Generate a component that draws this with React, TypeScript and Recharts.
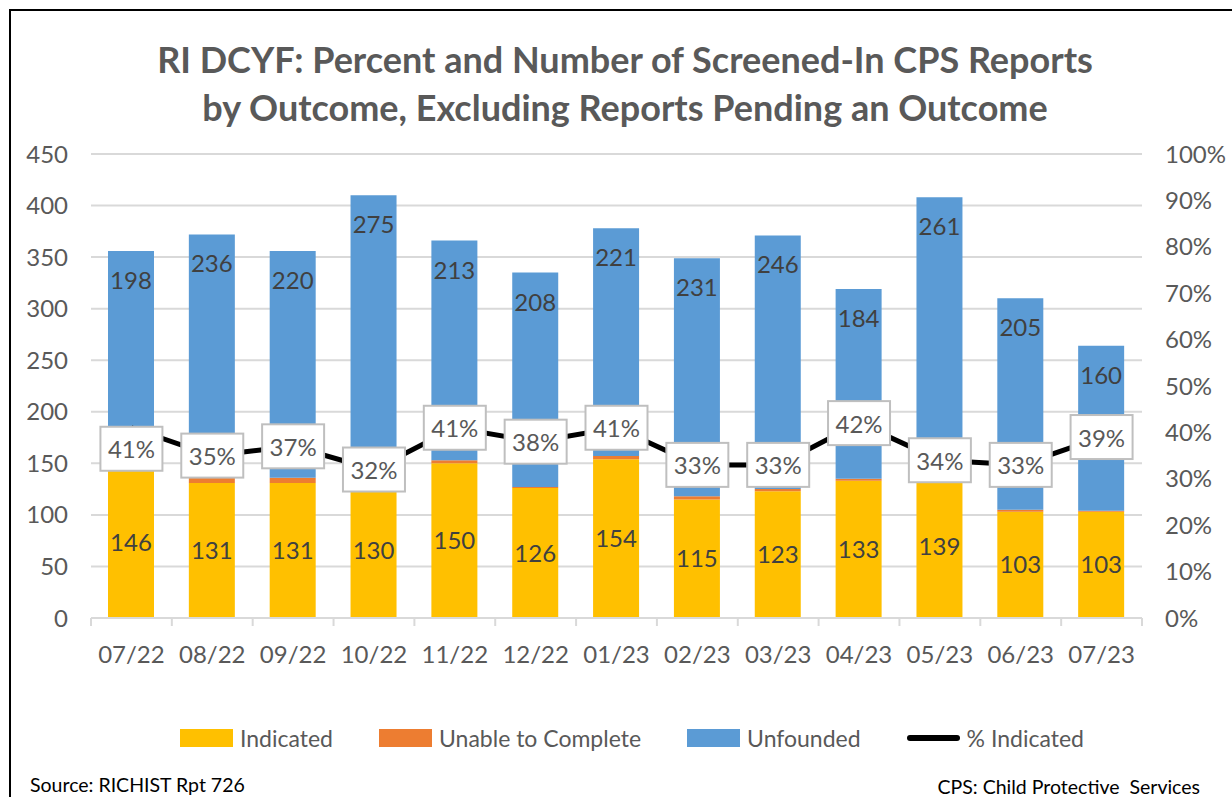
import React from "react";
import {
  ComposedChart, Bar, Line, LabelList,
  XAxis, YAxis, CartesianGrid,
} from "recharts";

// ─── Data ────────────────────────────────────────────────
const months = ["07/22", "08/22", "09/22", "10/22", "11/22", "12/22", "01/23", "02/23", "03/23", "04/23", "05/23", "06/23", "07/23"];
const indicated = [146, 131, 131, 130, 150, 126, 154, 115, 123, 133, 139, 103, 103];
const unableToComplete = [12, 5, 5, 5, 3, 1, 3, 3, 2, 2, 8, 2, 1];
const unfounded = [198, 236, 220, 275, 213, 208, 221, 231, 246, 184, 261, 205, 160];
const pctIndicated = [0.41, 0.35, 0.37, 0.32, 0.41, 0.38, 0.41, 0.33, 0.33, 0.42, 0.34, 0.33, 0.39];

const countTicks = [0, 50, 100, 150, 200, 250, 300, 350, 400, 450];
const pctTicks = [0, 0.1, 0.2, 0.3, 0.4, 0.5, 0.6, 0.7, 0.8, 0.9, 1];

const data = months.map((month, i) => ({
  month,
  indicated: indicated[i],
  unable: unableToComplete[i],
  unfounded: unfounded[i],
  pct: pctIndicated[i],
}));

const FONT = "Lato, 'Open Sans', sans-serif";
const GREY = "#595959";
const GRID = "#D9D9D9";
const YELLOW = "#FFC000";
const ORANGE = "#ED7D31";
const BLUE = "#5B9BD5";

// x tick: month label + separator marks at the band edges
const MonthTick = (props: any) => {
  const { x, y, payload, index, visibleTicksCount } = props;
  const half = payload.offset || 0;
  const isLast = index === visibleTicksCount - 1;
  return (
    <g>
      <line x1={x - half} x2={x - half} y1={y} y2={y + 8} stroke={GRID} strokeWidth={2} />
      {isLast && <line x1={x + half} x2={x + half} y1={y} y2={y + 8} stroke={GRID} strokeWidth={2} />}
      <text x={x} y={y + 35} textAnchor="middle" dominantBaseline="central" fill={GREY} fontSize={24} fontFamily={FONT}>
        {payload.value}
      </text>
    </g>
  );
};

// boxed percent label on the line
const PctLabel = (props: any) => {
  const { x, y, value, index } = props;
  const dy = index === 0 ? 21 : 0; // first label sits below its point
  return (
    <g>
      <rect x={x - 31} y={y - 22 + dy} width={62} height={44} fill="#fff" stroke="#BFBFBF" strokeWidth={2} />
      <text x={x} y={y + dy} textAnchor="middle" dominantBaseline="central" fill={GREY} fontSize={24} fontFamily={FONT}>
        {Math.round(value * 100) + "%"}
      </text>
    </g>
  );
};

const legendItems = [
  { name: "Indicated", color: YELLOW, line: false },
  { name: "Unable to Complete", color: ORANGE, line: false },
  { name: "Unfounded", color: BLUE, line: false },
  { name: "% Indicated", color: "#000", line: true },
];

export default function App() {
  return (
    <div style={{ position: "absolute", left: 0, top: 0, width: 1232, height: 797, overflow: "hidden", background: "#fff", fontFamily: FONT }}>
      {/* frame */}
      <div style={{ position: "absolute", left: 9, top: 9, width: 1400, height: 1000, borderLeft: "2px solid #000", borderTop: "2px solid #000" }} />

      {/* title */}
      <div style={{ position: "absolute", left: 0, top: 35, width: 1250, textAlign: "center", color: GREY, fontWeight: 700, fontSize: 36, lineHeight: "48px" }}>
        RI DCYF: Percent and Number of Screened-In CPS Reports<br />
        by Outcome, Excluding Reports Pending an Outcome
      </div>

      <div style={{ position: "absolute", left: 0, top: 0 }}>
        <ComposedChart width={1232} height={797} data={data} margin={{ top: 154, right: 0, left: 0, bottom: 129 }}>
          <CartesianGrid vertical={false} stroke={GRID} strokeWidth={2} />
          <XAxis
            dataKey="month"
            height={50}
            tick={<MonthTick />}
            tickLine={false}
            tickSize={0}
            tickMargin={0}
            axisLine={{ stroke: GRID, strokeWidth: 2 }}
            interval={0}
          />
          <YAxis
            domain={[0, 450]}
            ticks={countTicks}
            width={91}
            axisLine={false}
            tickLine={false}
            tickSize={0}
            tickMargin={23}
            tick={{ fill: GREY, fontSize: 24, fontFamily: FONT }}
          />
          <YAxis
            yAxisId="right"
            orientation="right"
            domain={[0, 1]}
            ticks={pctTicks}
            width={90}
            axisLine={false}
            tickLine={false}
            tickSize={0}
            tickMargin={23}
            tickFormatter={(v: number) => Math.round(v * 100) + "%"}
            tick={{ fill: GREY, fontSize: 24, fontFamily: FONT }}
          />
          <Bar dataKey="indicated" stackId="a" fill={YELLOW} barSize={46} isAnimationActive={false}>
            <LabelList dataKey="indicated" position="center" fill="#404040" fontSize={24} fontFamily={FONT} />
          </Bar>
          <Bar dataKey="unable" stackId="a" fill={ORANGE} barSize={46} isAnimationActive={false} />
          <Bar dataKey="unfounded" stackId="a" fill={BLUE} barSize={46} isAnimationActive={false}>
            <LabelList dataKey="unfounded" position="insideTop" offset={21} fill="#404040" fontSize={24} fontFamily={FONT} />
          </Bar>
          <Line
            yAxisId="right"
            dataKey="pct"
            stroke="#000"
            strokeWidth={5}
            dot={false}
            isAnimationActive={false}
          >
            <LabelList dataKey="pct" content={<PctLabel />} />
          </Line>
        </ComposedChart>
      </div>

      {/* legend */}
      <div style={{ position: "absolute", left: 180, top: 724, display: "flex", alignItems: "center", gap: 46, color: GREY, fontSize: 23 }}>
        {legendItems.map((it) => (
          <div key={it.name} style={{ display: "flex", alignItems: "center", gap: 7 }}>
            {it.line ? (
              <span style={{ width: 53, height: 6, borderRadius: 3, background: it.color, display: "inline-block" }} />
            ) : (
              <span style={{ width: 53, height: 18, background: it.color, display: "inline-block" }} />
            )}
            <span>{it.name}</span>
          </div>
        ))}
      </div>

      {/* footer */}
      <div style={{ position: "absolute", left: 30, top: 773, fontSize: 19.5, color: "#000" }}>Source: RICHIST Rpt 726</div>
      <div style={{ position: "absolute", right: 32, top: 775, fontSize: 19.5, color: "#000", whiteSpace: "pre" }}>CPS: Child Protective  Services</div>
    </div>
  );
}
